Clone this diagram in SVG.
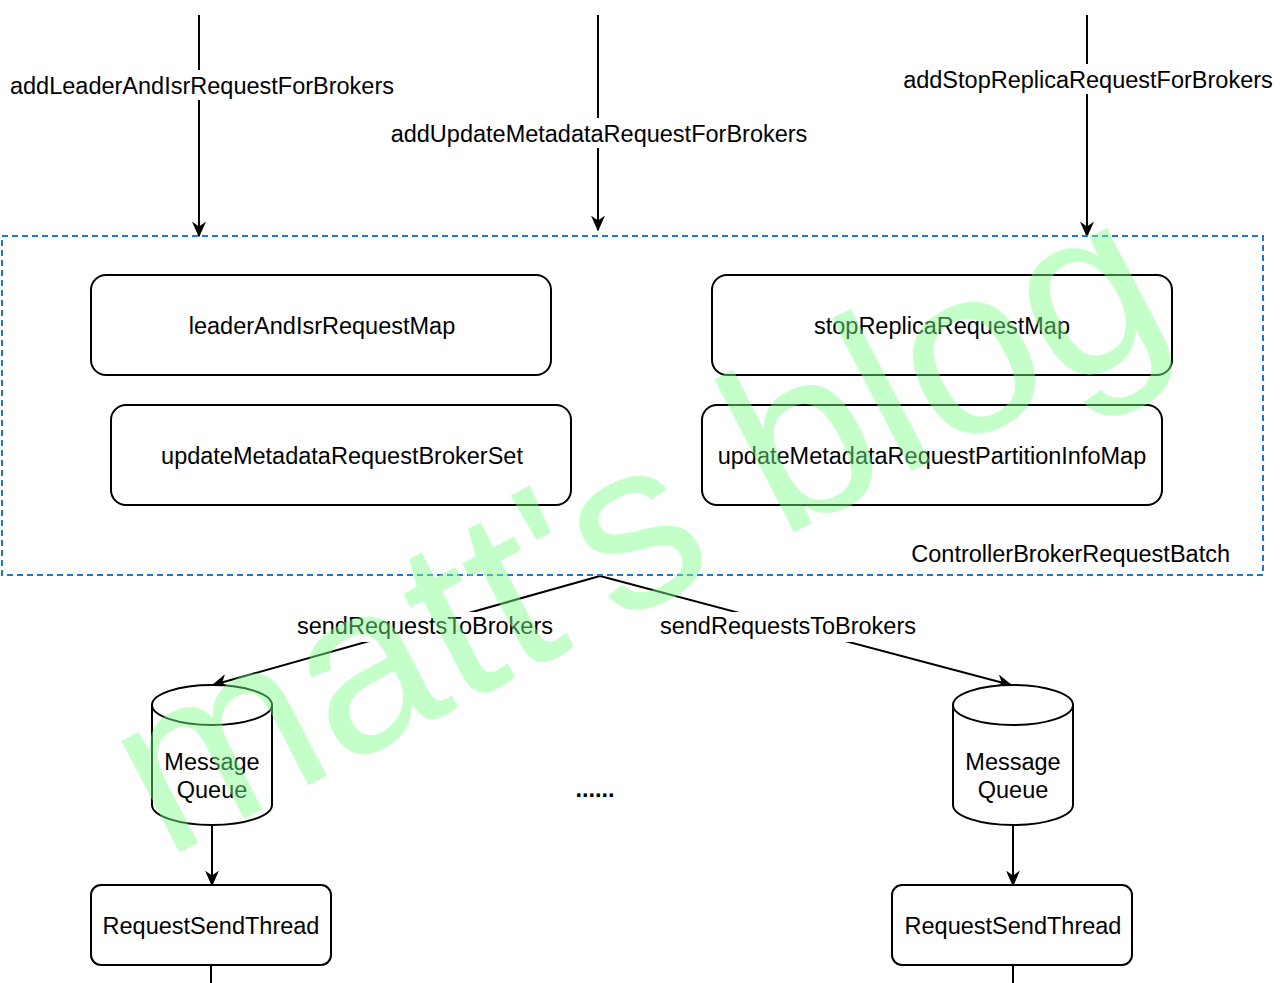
<svg xmlns="http://www.w3.org/2000/svg" width="1280" height="983" viewBox="0 0 1280 983">
<defs>
<marker id="ah" viewBox="0 0 10 10" refX="9" refY="5" markerWidth="16" markerHeight="14" orient="auto" markerUnits="userSpaceOnUse" preserveAspectRatio="none"><path d="M0,0 L10,5 L0,10 L3,5 z" fill="#000"/></marker>
<style>
text{font-family:"Liberation Sans",Arial,sans-serif;font-size:23.5px;fill:#000;text-anchor:middle}
.b{fill:#fff;stroke:#000;stroke-width:2}
.l{stroke:#000;stroke-width:2;fill:none}
.bg{fill:#fff}
</style>
</defs>
<rect width="1280" height="983" fill="#fff"/>
<g id="connectors">
<line class="l" x1="199" y1="15" x2="199" y2="236" marker-end="url(#ah)"/>
<line class="l" x1="598" y1="15" x2="598" y2="230" marker-end="url(#ah)"/>
<line class="l" x1="1087" y1="15" x2="1087" y2="236" marker-end="url(#ah)"/>
<line class="l" x1="600" y1="576" x2="213" y2="685" marker-end="url(#ah)"/>
<line class="l" x1="600" y1="576" x2="1011" y2="685" marker-end="url(#ah)"/>
<line class="l" x1="212" y1="825" x2="212" y2="885" marker-end="url(#ah)"/>
<line class="l" x1="1013" y1="825" x2="1013" y2="885" marker-end="url(#ah)"/>
<line class="l" x1="211" y1="965" x2="211" y2="983"/>
<line class="l" x1="1013" y1="965" x2="1013" y2="983"/>
<rect class="bg" x="5" y="70" width="395" height="30"/><text x="202" y="94">addLeaderAndIsrRequestForBrokers</text>
<rect class="bg" x="385" y="118" width="428" height="30"/><text x="599" y="142">addUpdateMetadataRequestForBrokers</text>
<rect class="bg" x="898" y="64" width="380" height="30"/><text x="1088" y="88">addStopReplicaRequestForBrokers</text>
<rect class="bg" x="292" y="612" width="266" height="30"/><text x="425" y="634">sendRequestsToBrokers</text>
<rect class="bg" x="655" y="612" width="266" height="30"/><text x="788" y="634">sendRequestsToBrokers</text>
</g>
<g id="batch">
<rect x="2" y="236" width="1261" height="339" fill="none" stroke="#1f77d4" stroke-width="2" stroke-dasharray="6,4"/>
<text x="1230" y="562" style="text-anchor:end">ControllerBrokerRequestBatch</text>
</g>
<g id="n1"><rect class="b" x="91" y="275" width="460" height="100" rx="15"/><text x="322" y="334">leaderAndIsrRequestMap</text></g>
<g id="n2"><rect class="b" x="111" y="405" width="460" height="100" rx="15"/><text x="342" y="464">updateMetadataRequestBrokerSet</text></g>
<g id="n3"><rect class="b" x="712" y="275" width="460" height="100" rx="15"/><text x="942" y="334">stopReplicaRequestMap</text></g>
<g id="n4"><rect class="b" x="702" y="405" width="460" height="100" rx="15"/><text x="932" y="464">updateMetadataRequestPartitionInfoMap</text></g>
<g id="q1">
<path class="b" d="M152,705 A60,20 0 0 1 272,705 L272,805 A60,20 0 0 1 152,805 Z"/>
<path class="l" d="M152,705 A60,20 0 0 0 272,705"/>
<text x="212" y="770">Message</text><text x="212" y="798">Queue</text>
</g>
<g id="q2">
<path class="b" d="M953,705 A60,20 0 0 1 1073,705 L1073,805 A60,20 0 0 1 953,805 Z"/>
<path class="l" d="M953,705 A60,20 0 0 0 1073,705"/>
<text x="1013" y="770">Message</text><text x="1013" y="798">Queue</text>
</g>
<g id="t1"><rect class="b" x="91" y="885" width="240" height="80" rx="10"/><text x="211" y="934">RequestSendThread</text></g>
<g id="t2"><rect class="b" x="892" y="885" width="240" height="80" rx="10"/><text x="1013" y="934">RequestSendThread</text></g>
<text x="595" y="797" style="font-weight:bold">......</text>
<text x="0" y="0" transform="translate(165,860) rotate(-27.5)" style="font-size:238px;fill:#7dff8a;fill-opacity:0.45;text-anchor:start">matt's blog</text>
</svg>
